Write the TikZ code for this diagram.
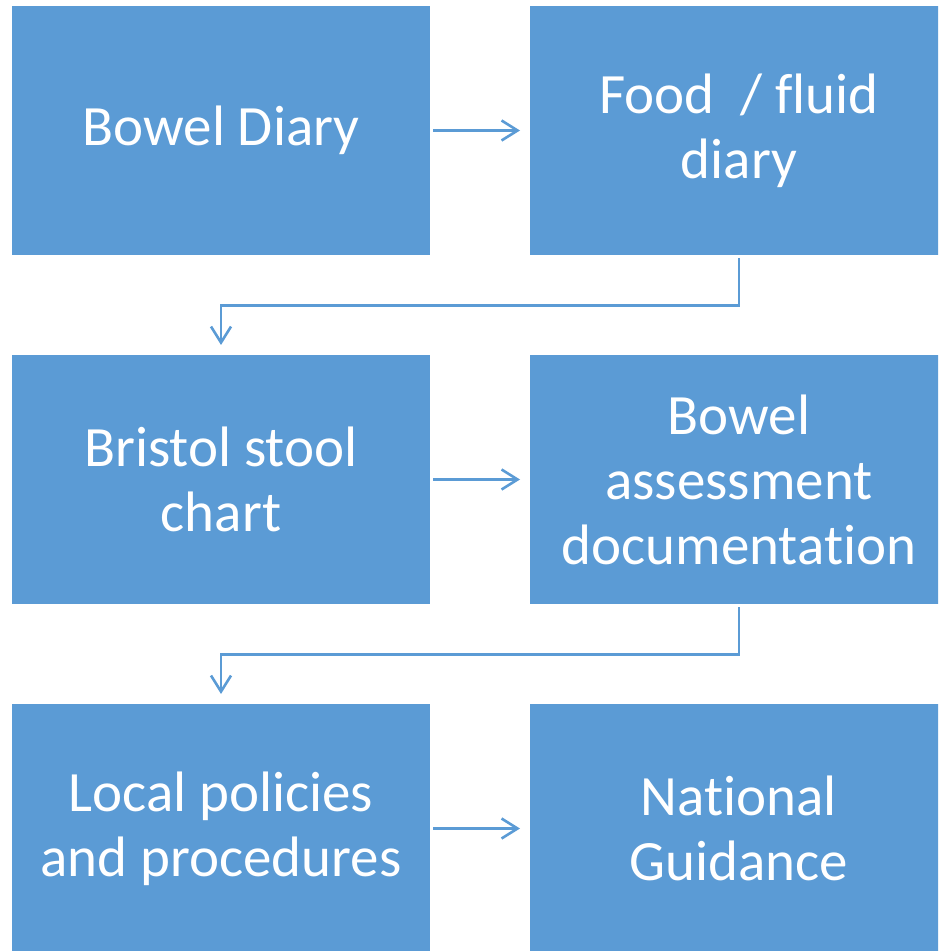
\documentclass[tikz,border=0pt]{standalone}
\usepackage{fontspec}
\setmainfont[Ligatures=NoCommon]{Carlito}
\usetikzlibrary{arrows.meta,positioning,calc}
\definecolor{stageblue}{HTML}{5B9BD5}

\tikzset{
  stage/.style={fill=stageblue, text=white, align=center,
    minimum width=209pt, minimum height=124.5pt, inner sep=0pt, outer sep=0pt,
    font=\fontsize{28.5}{32.5}\selectfont},
  flow/.style={draw=stageblue, line width=1.3pt,
    -{Straight Barb[length=8pt,width=10pt]}, shorten >=5pt, shorten <=1.5pt}
}

\begin{document}
\begin{tikzpicture}[node distance=50pt]
	\clip (0,0) rectangle (469pt,-475.5pt);

	\node [stage] (diary) at (110.5pt,-65.25pt) {Bowel Diary};
	\node [stage, right=of diary] (food) {Food~ / fluid\\diary};

	\node [stage, below=of diary] (stool) {Bristol stool\\chart};
	\node [stage, right=of stool] (assess) {Bowel\\assessment\\documentation};

	\node [stage, below=of stool] (local) {Local policies\\and procedures};
	\node [stage, right=of local] (national) {National\\Guidance};

	\draw[flow] (diary) -- (food);
	\draw[flow] (food.south) -- ++(0,-25.25pt) -| (stool.north);
	\draw[flow] (stool) -- (assess);
	\draw[flow] (assess.south) -- ++(0,-25.25pt) -| (local.north);
	\draw[flow] (local) -- (national);
\end{tikzpicture}
\end{document}
